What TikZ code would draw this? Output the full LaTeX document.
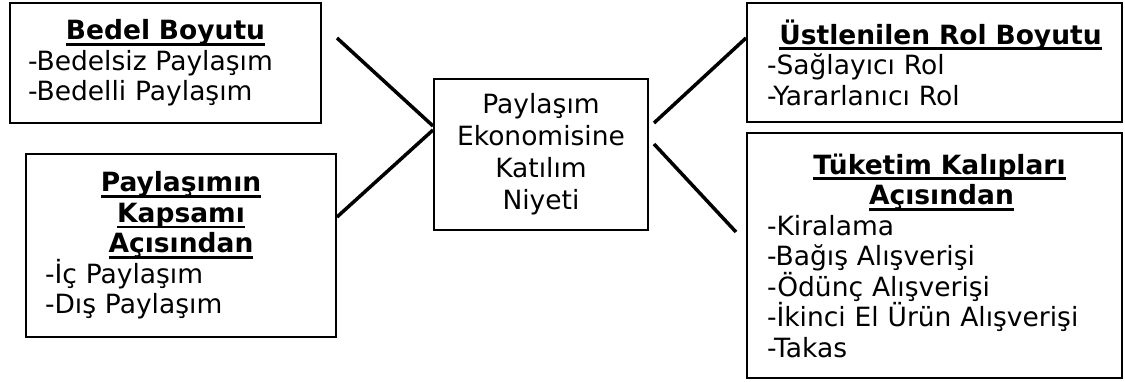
\documentclass[tikz,border=0pt]{standalone}
\usepackage{fontspec}
\setmainfont{DejaVu Sans}
\usepackage{tikz}
\usetikzlibrary{positioning,calc}

% bold heading with a low rule under it
\newcommand{\hdr}[1]{\leavevmode{\bfseries\setbox0\hbox{#1}\rlap{\rule[-6pt]{\wd0}{2.6pt}}\box0}}

\begin{document}
\begin{tikzpicture}[
  x=1pt,y=-1pt,
  font=\fontsize{26.5}{30.5}\selectfont,
  box/.style={draw, line width=2pt, align=left, inner xsep=18pt, inner ysep=0pt},
  link/.style={line width=3.5pt}
]
\useasboundingbox (0,0) rectangle (1125,382);
\node[box, minimum width=311pt, minimum height=120pt, text width=275pt] (bedel) at (165.5,63)
  {{\centering\hdr{Bedel Boyutu}\par}-Bedelsiz Paylaşım\\-Bedelli Paylaşım};
\node[box, minimum width=310pt, minimum height=183pt, text width=272pt, inner xsep=19pt] (kapsam) at (181,245.5)
  {{\centering\hdr{Paylaşımın}\\\hdr{Kapsamı}\\\hdr{Açısından}\par}-İç Paylaşım\\-Dış Paylaşım};
\node[box, align=center, minimum width=214pt, minimum height=151pt, inner xsep=4pt,
  font=\fontsize{26.5}{32}\selectfont] (merkez) at (541,154.5)
  {Paylaşım\\Ekonomisine\\Katılım\\Niyeti};
\node[box, minimum width=375pt, minimum height=119pt, text width=335pt, inner xsep=20pt] (rol) at (934.5,62.5)
  {{\centering\hspace*{12pt}\hdr{Üstlenilen Rol Boyutu}\par}-Sağlayıcı Rol\\-Yararlanıcı Rol};
\node[box, minimum width=375pt, minimum height=245pt, text width=335pt, inner xsep=20pt] (tuketim) at (934.5,255.5)
  {{\centering\hspace*{10pt}\hdr{Tüketim Kalıpları}\\\hspace*{14pt}\hdr{Açısından}\par}-Kiralama\\-Bağış Alışverişi\\-Ödünç Alışverişi\\-İkinci El Ürün Alışverişi\\-Takas};
% connectors into the middle box
\draw[link] ([shift={(15pt,25pt)}]bedel.east) -- ([yshift=28.5pt]merkez.west);
\draw[link] ([yshift=28.5pt]kapsam.east) -- ([yshift=24.5pt]merkez.west);
\draw[link] ([shift={(5pt,31.5pt)}]merkez.east) -- ([yshift=24.5pt]rol.west);
\draw[link] ([shift={(5pt,10.5pt)}]merkez.east) -- ([shift={(-10pt,23.5pt)}]tuketim.west);
\end{tikzpicture}
\end{document}
